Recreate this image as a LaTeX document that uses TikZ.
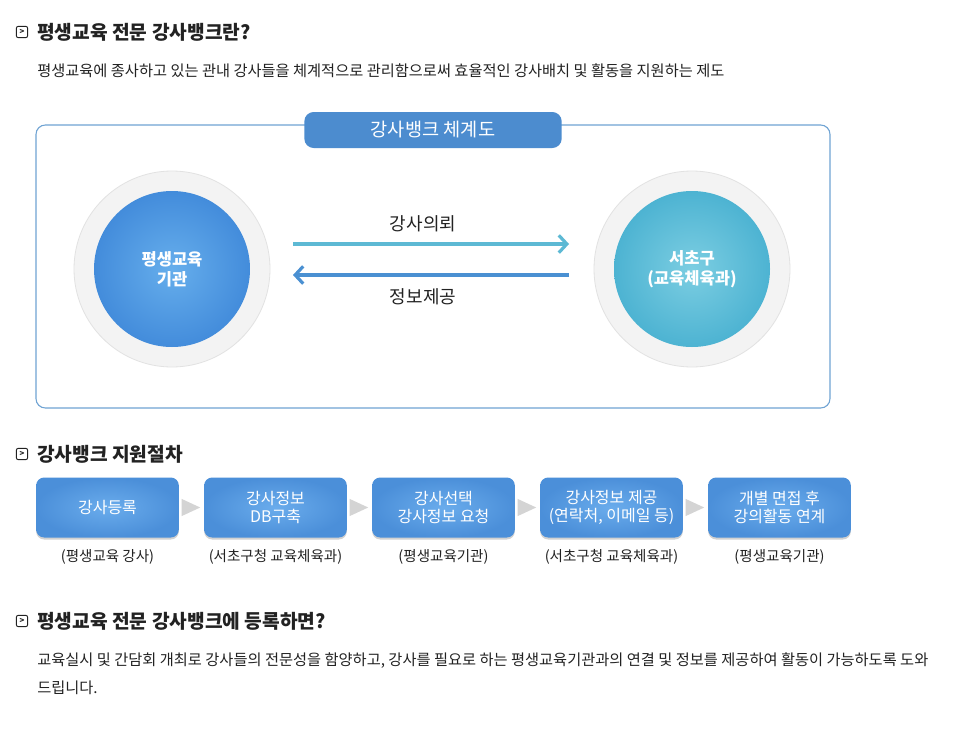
\documentclass[tikz,border=0pt]{standalone}
\usepackage{fontspec}
\setmainfont{Noto Sans CJK KR}
\usetikzlibrary{shadows,arrows.meta}
\definecolor{frameblue}{HTML}{6FA3D3}
\definecolor{tabblue}{HTML}{4C8CCF}
\definecolor{leftin}{HTML}{66AEEC}
\definecolor{leftout}{HTML}{438CDB}
\definecolor{rightin}{HTML}{7CCEE2}
\definecolor{rightout}{HTML}{4DB3D2}
\definecolor{ringgray}{HTML}{F3F3F3}
\definecolor{ringedge}{HTML}{E2E2E2}
\definecolor{arrcyan}{HTML}{5DB9D4}
\definecolor{arrblue}{HTML}{4A90D2}
\definecolor{boxin}{HTML}{6AACEC}
\definecolor{boxout}{HTML}{4B8FD9}
\definecolor{txt}{HTML}{222222}
\definecolor{chev}{HTML}{D4D4D4}
\tikzset{
  heading/.style={anchor=west,font=\fontsize{14.4}{16}\selectfont\bfseries,text=txt,inner sep=0pt},
  bodytext/.style={anchor=west,font=\fontsize{11.45}{13}\selectfont,text=txt,inner sep=0pt},
  iconbox/.style={draw=txt,line width=0.7pt,rounded corners=1.5pt,minimum size=8.5pt,inner sep=0pt,font=\fontsize{6}{6}\selectfont\bfseries,text=txt},
  ring/.style={circle,fill=ringgray,draw=ringedge,line width=0.6pt,minimum size=147pt,inner sep=0pt},
  disc/.style={circle,minimum size=117pt,inner sep=0pt,align=center,text=white,font=\fontsize{12.4}{15}\selectfont\bfseries},
  stepbox/.style={rounded corners=6pt,minimum width=107pt,minimum height=45pt,inner sep=0pt,align=center,text=white,
     font=\fontsize{12}{14}\selectfont,inner color=boxin,outer color=boxout,
     drop shadow={shadow xshift=0pt,shadow yshift=-1.5pt,opacity=0.18,fill=black}},
  steplabel/.style={font=\fontsize{10.9}{12}\selectfont,text=txt,inner sep=0pt},
  flowlabel/.style={font=\fontsize{13.5}{15}\selectfont,text=txt,inner sep=0pt},
}
\begin{document}
\begin{tikzpicture}[x=0.75pt,y=-0.75pt]
\useasboundingbox (0,0) rectangle (967,746);
\fill[white] (0,0) rectangle (967,746);

% Heading 1
\node[iconbox] (i1) at (22,32) {>};
\node[heading] (h1) at (37,32) {평생교육 전문 강사뱅크란?};
\node[bodytext] (b1) at (37,71) {평생교육에 종사하고 있는 관내 강사들을 체계적으로 관리함으로써 효율적인 강사배치 및 활동을 지원하는 제도};

% Frame
\draw[frameblue,line width=0.8pt,rounded corners=7pt] (36,125) rectangle (830,408);
\node[fill=tabblue,rounded corners=7pt,minimum width=193pt,minimum height=27pt,inner sep=0pt,text=white,font=\fontsize{14}{16}\selectfont] (tab) at (433,130) {강사뱅크 체계도};

% Circles
\node[ring] (lring) at (172,269) {};
\node[disc,inner color=leftin,outer color=leftout] (ldisc) at (172,269) {평생교육\\기관};
\node[ring] (rring) at (692,269) {};
\node[disc,inner color=rightin,outer color=rightout] (rdisc) at (692,269) {서초구\\(교육체육과)};

% Arrows
\coordinate (a1s) at (293,244);
\coordinate (a1e) at (569,244);
\coordinate (a2s) at (569,275);
\coordinate (a2e) at (293,275);
\draw[arrcyan,line width=2.4pt,-{Straight Barb[length=6pt,width=13pt,line width=2.4pt]}] (a1s) -- (a1e);
\draw[arrblue,line width=2.4pt,-{Straight Barb[length=6pt,width=13pt,line width=2.4pt]}] (a2s) -- (a2e);
\node[flowlabel] (l1) at (423,224) {강사의뢰};
\node[flowlabel] (l2) at (423,297) {정보제공};

% Heading 2
\node[iconbox] (i2) at (22,454) {>};
\node[heading] (h2) at (37,454) {강사뱅크 지원절차};

% Steps
\node[stepbox] (s1) at (107.5,507.5) {강사등록};
\node[stepbox] (s2) at (275.5,507.5) {강사정보\\DB구축};
\node[stepbox] (s3) at (443.5,507.5) {강사선택\\강사정보 요청};
\node[stepbox] (s4) at (611.5,507.5) {강사정보 제공\\(연락처, 이메일 등)};
\node[stepbox] (s5) at (779.5,507.5) {개별 면접 후\\강의활동 연계};

\foreach \a/\b in {s1/s2,s2/s3,s3/s4,s4/s5}{
  \path (\a.east) -- (\b.west) coordinate[pos=0.5] (m\a);
  \fill[chev] ([xshift=-7.5pt,yshift=6.5pt]m\a) -- ([xshift=6.5pt]m\a) -- ([xshift=-7.5pt,yshift=-6.5pt]m\a) -- cycle;
}

\node[steplabel] (t1) at (107.5,557) {(평생교육 강사)};
\node[steplabel] (t2) at (275.5,557) {(서초구청 교육체육과)};
\node[steplabel] (t3) at (443.5,557) {(평생교육기관)};
\node[steplabel] (t4) at (611.5,557) {(서초구청 교육체육과)};
\node[steplabel] (t5) at (779.5,557) {(평생교육기관)};

% Heading 3
\node[iconbox] (i3) at (22,621) {>};
\node[heading] (h3) at (37,621) {평생교육 전문 강사뱅크에 등록하면?};
\node[bodytext] (b2) at (37,661) {교육실시 및 간담회 개최로 강사들의 전문성을 함양하고, 강사를 필요로 하는 평생교육기관과의 연결 및 정보를 제공하여 활동이 가능하도록 도와};
\node[bodytext] (b3) at (37,688) {드립니다.};
\end{tikzpicture}
\end{document}
